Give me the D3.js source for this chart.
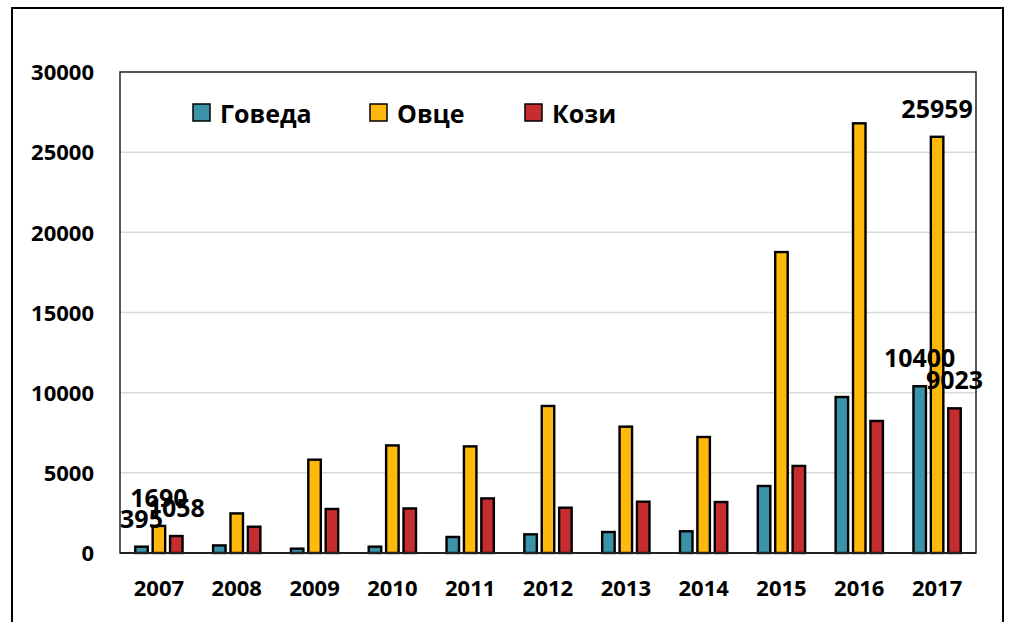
<!DOCTYPE html>
<html>
<head>
<meta charset="utf-8">
<script src="https://cdn.jsdelivr.net/npm/d3@7"></script>
<style>
  body { margin: 0; background: #fff; }
  text { font-family: "Open Sans", "DejaVu Sans", sans-serif; font-weight: bold; fill: #000; }
</style>
</head>
<body>
<div id="chart"></div>
<script>
const years = ["2007", "2008", "2009", "2010", "2011", "2012", "2013", "2014", "2015", "2016", "2017"];
const seriesNames = ["Говеда", "Овце", "Кози"];
const cattle = [395, 474, 270, 395, 1000, 1165, 1310, 1355, 4180, 9730, 10400];
const sheep = [1690, 2470, 5820, 6710, 6650, 9170, 7880, 7235, 18770, 26800, 25959];
const goats = [1058, 1640, 2745, 2780, 3405, 2825, 3200, 3180, 5430, 8235, 9023];
const yTicks = [0, 5000, 10000, 15000, 20000, 25000, 30000];
const labelledYears = ["2007", "2017"];
const colors = ["#3A93A8", "#FFB80C", "#C62D2F"];

const W = 1017, H = 622;
const margin = { top: 72, right: 41, bottom: 69, left: 120 };
const width = W - margin.left - margin.right,
      height = H - margin.top - margin.bottom;

const svg = d3.select("#chart").append("svg")
    .attr("width", W)
    .attr("height", H);

// outer frame (extends past the bottom edge)
svg.append("rect")
    .attr("x", 12).attr("y", 8)
    .attr("width", 991).attr("height", 640)
    .attr("fill", "none")
    .attr("stroke", "#000")
    .attr("stroke-width", 2);

const g = svg.append("g")
    .attr("transform", "translate(" + margin.left + "," + margin.top + ")");

const x = d3.scaleBand().domain(years).range([0, width]);
const y = d3.scaleLinear().domain([0, 30000]).range([height, 0]);

// gridlines
g.selectAll(".grid")
    .data(yTicks.filter(d => d > 0 && d < 30000))
    .enter().append("line")
    .attr("class", "grid")
    .attr("x1", 0).attr("x2", width)
    .attr("y1", d => y(d)).attr("y2", d => y(d))
    .attr("stroke", "#d9d9d9")
    .attr("stroke-width", 1.5);

// y axis labels
g.append("g")
    .call(d3.axisLeft(y).tickValues(yTicks).tickFormat(d3.format("d")).tickSize(0).tickPadding(26))
    .call(a => a.select(".domain").remove())
    .selectAll("text")
    .attr("font-size", 22)
    .attr("font-family", "Open Sans")
    .attr("font-weight", "bold")
    .attr("dy", "0.35em");

// x axis labels
g.append("g")
    .attr("transform", "translate(0," + height + ")")
    .call(d3.axisBottom(x).tickSize(0).tickPadding(27))
    .call(a => a.select(".domain").remove())
    .selectAll("text")
    .attr("font-size", 22)
    .attr("font-family", "Open Sans")
    .attr("font-weight", "bold");

// bars
const data = [cattle, sheep, goats];
const barW = 12.5, step = 17.4;
data.forEach(function(vals, si) {
    g.selectAll(".bar" + si)
        .data(years.map((yr, i) => ({ year: yr, value: vals[i] })))
        .enter().append("rect")
        .attr("class", "bar" + si)
        .attr("x", d => x(d.year) + x.bandwidth() / 2 + (si - 1) * step - barW / 2)
        .attr("y", d => y(d.value))
        .attr("width", barW)
        .attr("height", d => height - y(d.value))
        .attr("fill", colors[si])
        .attr("stroke", "#000")
        .attr("stroke-width", 2.4);
});

// plot border
g.append("rect")
    .attr("width", width).attr("height", height)
    .attr("fill", "none")
    .attr("stroke", "#222")
    .attr("stroke-width", 1.5);
g.append("line")
    .attr("x1", 0).attr("x2", width)
    .attr("y1", height).attr("y2", height)
    .attr("stroke", "#222")
    .attr("stroke-width", 2);

// data labels for first and last year
data.forEach(function(vals, si) {
    g.selectAll(".lbl" + si)
        .data(years.map((yr, i) => ({ year: yr, value: vals[i] })).filter(d => labelledYears.includes(d.year)))
        .enter().append("text")
        .attr("x", d => x(d.year) + x.bandwidth() / 2 + (si - 1) * step)
        .attr("y", d => y(d.value) - 19)
        .attr("text-anchor", "middle")
        .attr("font-size", 25)
        .text(d => d.value);
});

// legend
const legendX = [193, 370, 525];
const legend = svg.append("g");
seriesNames.forEach(function(name, i) {
    legend.append("rect")
        .attr("x", legendX[i]).attr("y", 104)
        .attr("width", 17).attr("height", 17)
        .attr("fill", colors[i])
        .attr("stroke", "#000")
        .attr("stroke-width", 1.5);
    legend.append("text")
        .attr("x", legendX[i] + 27).attr("y", 123)
        .attr("font-size", 25)
        .text(name);
});
</script>
</body>
</html>
